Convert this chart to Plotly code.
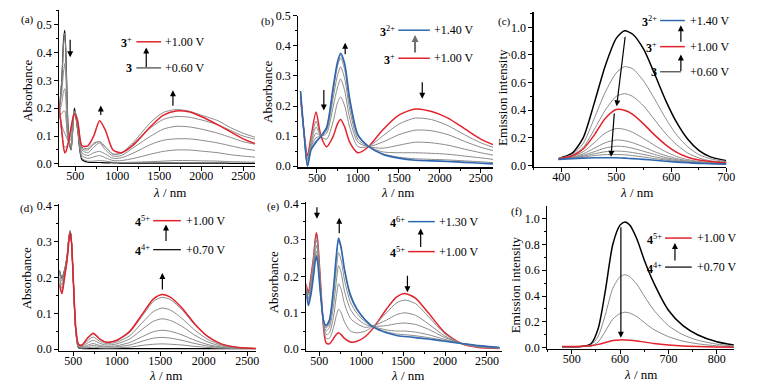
import plotly.graph_objects as go

W, H = 763, 392

# ---------------- data ----------------
# (a) 3 -> 3+ absorbance
a_wl = [300, 340, 360, 375, 390, 420, 450, 490, 530, 580, 650, 720, 790, 860, 950, 1050, 1200, 1400, 1550, 1700, 1850, 2000, 2200, 2350, 2500, 2650]
a_black = [0.16, 0.30, 0.44, 0.48, 0.38, 0.10, 0.05, 0.20, 0.12, 0.015, 0.006, 0.005, 0.005, 0.004, 0.004, 0.003, 0.003, 0.003, 0.003, 0.003, 0.003, 0.003, 0.003, 0.002, 0.002, 0.002]
a_gray = [
    [0.17, 0.30, 0.43, 0.47, 0.37, 0.10, 0.05, 0.19, 0.12, 0.02, 0.01, 0.01, 0.012, 0.01, 0.006, 0.005, 0.006, 0.008, 0.01, 0.012, 0.012, 0.011, 0.01, 0.008, 0.007, 0.006],
    [0.17, 0.26, 0.33, 0.36, 0.30, 0.09, 0.06, 0.19, 0.13, 0.03, 0.02, 0.025, 0.03, 0.022, 0.012, 0.012, 0.02, 0.035, 0.045, 0.05, 0.05, 0.046, 0.04, 0.033, 0.028, 0.024],
    [0.17, 0.22, 0.26, 0.27, 0.22, 0.08, 0.07, 0.19, 0.14, 0.04, 0.03, 0.04, 0.045, 0.035, 0.02, 0.022, 0.04, 0.07, 0.085, 0.09, 0.09, 0.085, 0.075, 0.065, 0.055, 0.048],
    [0.18, 0.18, 0.19, 0.19, 0.16, 0.08, 0.09, 0.19, 0.14, 0.05, 0.04, 0.06, 0.075, 0.05, 0.028, 0.03, 0.06, 0.10, 0.125, 0.135, 0.133, 0.125, 0.11, 0.095, 0.08, 0.07],
    [0.19, 0.14, 0.12, 0.11, 0.10, 0.08, 0.11, 0.19, 0.15, 0.055, 0.05, 0.07, 0.08, 0.06, 0.035, 0.038, 0.075, 0.13, 0.16, 0.17, 0.168, 0.158, 0.14, 0.12, 0.10, 0.088],
    [0.21, 0.11, 0.07, 0.06, 0.06, 0.08, 0.13, 0.19, 0.16, 0.06, 0.055, 0.075, 0.08, 0.06, 0.035, 0.04, 0.08, 0.15, 0.185, 0.195, 0.19, 0.175, 0.155, 0.13, 0.11, 0.095],
]
a_red = [0.23, 0.12, 0.06, 0.04, 0.045, 0.08, 0.13, 0.18, 0.15, 0.065, 0.065, 0.10, 0.155, 0.12, 0.05, 0.04, 0.07, 0.135, 0.175, 0.19, 0.187, 0.17, 0.14, 0.115, 0.09, 0.072]

# (b) 3+ -> 3(2+) absorbance
b_wl = [300, 340, 385, 430, 490, 550, 620, 700, 750, 790, 840, 900, 1000, 1130, 1300, 1500, 1700, 1900, 2100, 2300, 2500, 2650]
b_red = [0.23, 0.12, 0.035, 0.10, 0.18, 0.10, 0.065, 0.10, 0.14, 0.155, 0.13, 0.08, 0.045, 0.065, 0.12, 0.17, 0.19, 0.182, 0.16, 0.125, 0.09, 0.072]
b_gray = [
    [0.235, 0.12, 0.025, 0.09, 0.15, 0.10, 0.09, 0.15, 0.21, 0.23, 0.20, 0.13, 0.065, 0.066, 0.10, 0.14, 0.16, 0.155, 0.135, 0.105, 0.078, 0.063],
    [0.24, 0.12, 0.018, 0.08, 0.13, 0.10, 0.11, 0.20, 0.26, 0.29, 0.25, 0.16, 0.08, 0.066, 0.08, 0.105, 0.12, 0.118, 0.105, 0.083, 0.063, 0.052],
    [0.245, 0.12, 0.01, 0.07, 0.11, 0.10, 0.12, 0.23, 0.30, 0.33, 0.29, 0.19, 0.09, 0.066, 0.06, 0.07, 0.08, 0.078, 0.07, 0.057, 0.045, 0.037],
    [0.248, 0.12, 0.005, 0.065, 0.095, 0.10, 0.125, 0.25, 0.33, 0.36, 0.32, 0.21, 0.10, 0.066, 0.048, 0.045, 0.045, 0.043, 0.04, 0.034, 0.028, 0.023],
    [0.25, 0.12, 0.002, 0.06, 0.085, 0.10, 0.13, 0.26, 0.34, 0.37, 0.335, 0.22, 0.105, 0.066, 0.042, 0.03, 0.025, 0.023, 0.021, 0.018, 0.015, 0.012],
]
b_blue = [0.25, 0.12, 0.0, 0.055, 0.08, 0.10, 0.13, 0.265, 0.345, 0.375, 0.34, 0.225, 0.105, 0.066, 0.04, 0.027, 0.02, 0.018, 0.016, 0.013, 0.01, 0.008]

# (c) emission of 3 series
c_wl = [395, 420, 440, 460, 480, 500, 515, 530, 550, 570, 590, 610, 630, 650, 670, 700]
c_black = [0.05, 0.09, 0.20, 0.45, 0.72, 0.92, 0.975, 0.95, 0.84, 0.66, 0.47, 0.31, 0.19, 0.11, 0.065, 0.035]
c_gray_hi = [
    [0.05, 0.08, 0.16, 0.34, 0.53, 0.67, 0.715, 0.70, 0.61, 0.48, 0.34, 0.22, 0.135, 0.08, 0.05, 0.03],
    [0.05, 0.075, 0.13, 0.26, 0.40, 0.50, 0.52, 0.50, 0.43, 0.33, 0.23, 0.15, 0.09, 0.055, 0.035, 0.025],
]
c_red = [0.05, 0.07, 0.12, 0.22, 0.34, 0.405, 0.40, 0.37, 0.30, 0.22, 0.15, 0.095, 0.06, 0.04, 0.03, 0.02]
c_gray_lo = [
    [0.05, 0.065, 0.10, 0.165, 0.235, 0.268, 0.262, 0.24, 0.195, 0.145, 0.10, 0.065, 0.043, 0.03, 0.022, 0.017],
    [0.05, 0.06, 0.085, 0.125, 0.165, 0.185, 0.18, 0.165, 0.135, 0.10, 0.072, 0.05, 0.035, 0.025, 0.019, 0.015],
    [0.05, 0.058, 0.075, 0.10, 0.127, 0.14, 0.137, 0.125, 0.103, 0.08, 0.058, 0.042, 0.03, 0.022, 0.017, 0.013],
    [0.048, 0.055, 0.068, 0.085, 0.10, 0.105, 0.102, 0.094, 0.08, 0.063, 0.048, 0.035, 0.026, 0.02, 0.015, 0.012],
    [0.047, 0.053, 0.062, 0.072, 0.079, 0.08, 0.078, 0.072, 0.062, 0.05, 0.04, 0.03, 0.023, 0.018, 0.014, 0.011],
]
c_blue = [0.045, 0.05, 0.054, 0.056, 0.057, 0.056, 0.054, 0.05, 0.045, 0.038, 0.031, 0.025, 0.02, 0.016, 0.013, 0.01]

# (d) 4(4+) -> 4(5+) absorbance
d_wl = [340, 370, 400, 430, 450, 465, 480, 500, 530, 560, 600, 660, 730, 800, 880, 1000, 1150, 1300, 1420, 1520, 1620, 1750, 1900, 2050, 2200, 2400, 2620]
d_black = [0.22, 0.20, 0.22, 0.26, 0.31, 0.33, 0.30, 0.20, 0.05, 0.005, 0.002, 0.002, 0.002, 0.002, 0.002, 0.002, 0.002, 0.002, 0.002, 0.002, 0.002, 0.002, 0.002, 0.002, 0.002, 0.002, 0.002]
d_gray = [
    [0.22, 0.20, 0.22, 0.26, 0.31, 0.33, 0.30, 0.20, 0.05, 0.006, 0.003, 0.004, 0.006, 0.004, 0.003, 0.004, 0.006, 0.011, 0.014, 0.015, 0.014, 0.012, 0.008, 0.005, 0.003, 0.002, 0.002],
    [0.215, 0.195, 0.215, 0.26, 0.31, 0.33, 0.30, 0.20, 0.05, 0.007, 0.004, 0.007, 0.011, 0.008, 0.006, 0.007, 0.012, 0.023, 0.031, 0.033, 0.031, 0.025, 0.016, 0.009, 0.005, 0.003, 0.002],
    [0.21, 0.19, 0.215, 0.255, 0.31, 0.33, 0.30, 0.20, 0.052, 0.008, 0.005, 0.011, 0.016, 0.011, 0.008, 0.01, 0.019, 0.036, 0.049, 0.053, 0.05, 0.04, 0.025, 0.013, 0.006, 0.003, 0.002],
    [0.20, 0.18, 0.21, 0.255, 0.31, 0.33, 0.30, 0.20, 0.054, 0.01, 0.007, 0.017, 0.025, 0.017, 0.012, 0.015, 0.029, 0.057, 0.078, 0.085, 0.08, 0.064, 0.039, 0.02, 0.009, 0.004, 0.002],
    [0.195, 0.17, 0.205, 0.25, 0.31, 0.33, 0.30, 0.20, 0.056, 0.012, 0.009, 0.023, 0.034, 0.023, 0.016, 0.02, 0.038, 0.076, 0.105, 0.115, 0.109, 0.086, 0.053, 0.027, 0.012, 0.004, 0.002],
    [0.185, 0.16, 0.20, 0.25, 0.305, 0.33, 0.30, 0.20, 0.058, 0.014, 0.011, 0.028, 0.043, 0.029, 0.019, 0.024, 0.048, 0.095, 0.133, 0.145, 0.138, 0.11, 0.067, 0.034, 0.015, 0.005, 0.002],
]
d_red = [0.18, 0.155, 0.20, 0.25, 0.30, 0.325, 0.30, 0.20, 0.06, 0.015, 0.012, 0.03, 0.045, 0.03, 0.02, 0.025, 0.05, 0.10, 0.14, 0.153, 0.145, 0.115, 0.07, 0.035, 0.015, 0.005, 0.002]

# (e) 4(5+) -> 4(6+) absorbance
e_wl = [340, 370, 400, 430, 450, 465, 480, 510, 550, 580, 620, 670, 700, 730, 760, 800, 870, 950, 1050, 1150, 1300, 1420, 1520, 1650, 1800, 2000, 2200, 2400, 2650]
e_red = [0.18, 0.155, 0.20, 0.25, 0.30, 0.32, 0.30, 0.20, 0.06, 0.018, 0.015, 0.03, 0.04, 0.045, 0.04, 0.03, 0.02, 0.022, 0.035, 0.06, 0.11, 0.143, 0.153, 0.14, 0.10, 0.045, 0.015, 0.005, 0.002]
e_gray = [
    [0.175, 0.15, 0.195, 0.245, 0.295, 0.31, 0.29, 0.19, 0.065, 0.03, 0.03, 0.06, 0.09, 0.11, 0.10, 0.075, 0.05, 0.045, 0.05, 0.065, 0.10, 0.127, 0.135, 0.125, 0.09, 0.042, 0.015, 0.006, 0.003],
    [0.17, 0.14, 0.185, 0.235, 0.285, 0.30, 0.285, 0.185, 0.07, 0.04, 0.045, 0.09, 0.14, 0.18, 0.165, 0.125, 0.085, 0.07, 0.06, 0.065, 0.08, 0.095, 0.10, 0.093, 0.07, 0.036, 0.015, 0.007, 0.003],
    [0.165, 0.135, 0.175, 0.225, 0.27, 0.285, 0.27, 0.175, 0.075, 0.05, 0.06, 0.12, 0.18, 0.23, 0.21, 0.16, 0.11, 0.085, 0.068, 0.063, 0.065, 0.07, 0.072, 0.068, 0.055, 0.032, 0.016, 0.008, 0.004],
    [0.163, 0.13, 0.165, 0.215, 0.255, 0.27, 0.255, 0.17, 0.078, 0.058, 0.07, 0.145, 0.215, 0.265, 0.245, 0.19, 0.13, 0.098, 0.075, 0.062, 0.053, 0.05, 0.05, 0.047, 0.04, 0.027, 0.016, 0.009, 0.004],
    [0.16, 0.125, 0.155, 0.205, 0.245, 0.26, 0.245, 0.165, 0.08, 0.063, 0.078, 0.165, 0.245, 0.30, 0.275, 0.215, 0.145, 0.107, 0.079, 0.061, 0.048, 0.042, 0.04, 0.037, 0.032, 0.024, 0.016, 0.01, 0.005],
]
e_blue = [0.16, 0.12, 0.15, 0.20, 0.24, 0.255, 0.24, 0.16, 0.08, 0.065, 0.08, 0.17, 0.25, 0.305, 0.28, 0.22, 0.15, 0.11, 0.08, 0.06, 0.045, 0.038, 0.035, 0.032, 0.028, 0.022, 0.016, 0.01, 0.005]

# (f) emission of 4 series
f_wl = [480, 520, 540, 555, 570, 585, 600, 610, 620, 635, 650, 670, 700, 730, 760, 800, 835]
f_black = [0.005, 0.008, 0.03, 0.15, 0.45, 0.80, 0.95, 0.975, 0.95, 0.84, 0.68, 0.50, 0.29, 0.17, 0.10, 0.045, 0.02]
f_gray = [
    [0.005, 0.008, 0.02, 0.09, 0.26, 0.46, 0.55, 0.565, 0.55, 0.49, 0.40, 0.29, 0.17, 0.10, 0.058, 0.027, 0.012],
    [0.005, 0.007, 0.012, 0.045, 0.13, 0.22, 0.265, 0.275, 0.268, 0.24, 0.195, 0.14, 0.085, 0.05, 0.03, 0.014, 0.007],
]
f_red = [0.008, 0.01, 0.015, 0.025, 0.04, 0.055, 0.06, 0.06, 0.058, 0.052, 0.043, 0.032, 0.02, 0.012, 0.008, 0.004, 0.002]

# ---------------- styling ----------------
RED = "#e3222c"
BLUE = "#2f67b1"
GRAY = "#8a8a8a"
BLACK = "#000000"
FONT = "Liberation Serif"

fig = go.Figure()

def add(i, x, y, color, width):
    ax = "" if i == 1 else str(i)
    fig.add_trace(go.Scatter(x=x, y=y, mode="lines", xaxis="x" + ax, yaxis="y" + ax,
                             line=dict(color=color, width=width, shape="spline", smoothing=0.7),
                             showlegend=False, hoverinfo="skip"))

add(1, a_wl, a_black, BLACK, 1.2)
for g in a_gray:
    add(1, a_wl, g, GRAY, 1.0)
add(1, a_wl, a_red, RED, 1.5)

add(2, b_wl, b_red, RED, 1.5)
for g in b_gray:
    add(2, b_wl, g, GRAY, 1.0)
add(2, b_wl, b_blue, BLUE, 1.6)

add(3, c_wl, c_black, BLACK, 1.5)
for g in c_gray_hi:
    add(3, c_wl, g, GRAY, 1.0)
for g in c_gray_lo:
    add(3, c_wl, g, GRAY, 1.0)
add(3, c_wl, c_red, RED, 1.5)
add(3, c_wl, c_blue, BLUE, 1.6)

add(4, d_wl, d_black, BLACK, 1.2)
for g in d_gray:
    add(4, d_wl, g, GRAY, 1.0)
add(4, d_wl, d_red, RED, 1.5)

add(5, e_wl, e_red, RED, 1.5)
for g in e_gray:
    add(5, e_wl, g, GRAY, 1.0)
add(5, e_wl, e_blue, BLUE, 1.6)

add(6, f_wl, f_black, BLACK, 1.5)
for g in f_gray:
    add(6, f_wl, g, GRAY, 1.0)
add(6, f_wl, f_red, RED, 1.5)

# panel geometry in pixels: (left, right, top, bottom), x range, y range, x dtick, x minor, y dtick, y minor
panels = {
    1: ((60, 258, 3, 164), [310, 2640], [-0.006, 0.553], 500, 250, 0.1, 0.05),
    2: ((302, 499, 9, 166), [275, 2650], [-0.004, 0.5], 500, 250, 0.1, 0.05),
    3: ((540, 735, 5, 165), [350, 700], [-0.007, 1.112], 100, 50, 0.2, 0.1),
    4: ((60, 259, 204, 355.5), [340, 2600], [-0.004, 0.4046], 500, 250, 0.1, 0.05),
    5: ((310, 508, 202, 355.5), [345, 2680], [-0.004, 0.4035], 500, 250, 0.1, 0.05),
    6: ((554, 743, 206, 353.5), [450, 836], [-0.009, 1.097], 100, 50, 0.2, 0.1),
}

layout = dict(width=W, height=H, margin=dict(l=0, r=0, t=0, b=0),
              paper_bgcolor="white", plot_bgcolor="white",
              font=dict(family=FONT, size=12, color="black"))

for i, (box, xr, yr, xdt, xmn, ydt, ymn) in panels.items():
    l, r, t, b = box
    sfx = "" if i == 1 else str(i)
    common = dict(showline=True, linecolor="black", linewidth=1.2, ticks="outside", ticklen=4,
                  tickwidth=1, tickcolor="black", showgrid=False, zeroline=False,
                  tickfont=dict(family=FONT, size=12, color="black"), fixedrange=True)
    layout["xaxis" + sfx] = dict(common, domain=[l / W, r / W], range=xr, anchor="y" + sfx,
                                 tickmode="linear", tick0=0, dtick=xdt, ticklabelstandoff=-5,
                                 minor=dict(ticks="outside", ticklen=2, tickcolor="black",
                                            tickmode="linear", tick0=0, dtick=xmn))
    layout["yaxis" + sfx] = dict(common, domain=[1 - b / H, 1 - t / H], range=yr, anchor="x" + sfx,
                                 tickmode="linear", tick0=0, dtick=ydt, tickformat=".1f",
                                 minor=dict(ticks="outside", ticklen=2, tickcolor="black",
                                            tickmode="linear", tick0=0, dtick=ymn))

fig.update_layout(**layout)

def P(x, y):
    return x / W, 1 - y / H

annotations = []
shapes = []

def text(x, y, s, size=12, anchor="center", angle=0):
    px, py = P(x, y)
    annotations.append(dict(x=px, y=py, xref="paper", yref="paper", text=s, showarrow=False,
                            xanchor=anchor, yanchor="middle", textangle=angle,
                            font=dict(family=FONT, size=size, color="black")))

def arrow(x0, y0, x1, y1, color="black", width=1.2, size=1.0):
    # tail (x0,y0) -> head (x1,y1), in pixels
    px, py = P(x1, y1)
    annotations.append(dict(x=px, y=py, xref="paper", yref="paper", ax=x0 - x1, ay=y0 - y1,
                            axref="pixel", ayref="pixel", text="", showarrow=True,
                            arrowhead=2, arrowsize=size, arrowwidth=width, arrowcolor=color))

def seg(x0, y0, x1, y1, color, width=1.5):
    a0, b0 = P(x0, y0)
    a1, b1 = P(x1, y1)
    shapes.append(dict(type="line", xref="paper", yref="paper", x0=a0, y0=b0, x1=a1, y1=b1,
                       line=dict(color=color, width=width)))

# panel labels
for lab, (x, y) in {"(a)": (28, 13), "(b)": (271, 15), "(c)": (511, 15),
                    "(d)": (27, 208), "(e)": (277, 206), "(f)": (523, 212)}.items():
    text(x, y, lab, size=11)

# axis titles
XT = "<i>λ</i> / nm"
for (x, y) in [(172, 192), (402, 192), (644, 192), (167, 381), (412, 381), (648, 380)]:
    text(x, y, XT, size=13)
for (x, y, s) in [(27, 87, "Absorbance"), (270, 88, "Absorbance"), (509, 93, "Emission intensity"),
                  (27, 281, "Absorbance"), (277, 285, "Absorbance"), (522, 287, "Emission intensity")]:
    text(x, y, s, size=13, angle=-90)

# inset legends
# (a)
text(136, 37, "<b>3</b><sup>+</sup>", anchor="right")
seg(138, 36, 163, 36, RED)
text(165, 36, "+1.00 V", anchor="left")
text(136, 63, "<b>3</b>", anchor="right")
seg(138, 63, 163, 63, "#404040", 1.2)
text(165, 63, "+0.60 V", anchor="left")
arrow(148, 63, 148, 42)
# (b)
text(402, 25, "<b>3</b><sup>2+</sup>", anchor="right")
seg(403, 24, 435, 24, BLUE)
text(437, 24, "+1.40 V", anchor="left")
text(402, 54, "<b>3</b><sup>+</sup>", anchor="right")
seg(403, 53, 435, 53, RED)
text(437, 53, "+1.00 V", anchor="left")
arrow(420, 48, 420, 29, color="#6f6f6f", width=2, size=0.7)
# (c)
text(667, 15, "<b>3</b><sup>2+</sup>", anchor="right")
seg(668, 14, 693, 14, BLUE)
text(696, 14, "+1.40 V", anchor="left")
text(667, 42, "<b>3</b><sup>+</sup>", anchor="right")
seg(668, 41, 693, 41, RED)
text(696, 41, "+1.00 V", anchor="left")
text(667, 67, "<b>3</b>", anchor="right")
seg(668, 67, 689, 67, "#404040", 1.2)
text(696, 67, "+0.60 V", anchor="left")
arrow(689, 67, 689, 49)
arrow(689, 37, 689, 19)
# (d)
text(154, 222, "<b>4</b><sup>5+</sup>", anchor="right")
seg(155, 221, 183, 221, RED)
text(186, 221, "+1.00 V", anchor="left")
text(154, 252, "<b>4</b><sup>4+</sup>", anchor="right")
seg(155, 251, 183, 251, BLACK, 1.2)
text(186, 251, "+0.70 V", anchor="left")
arrow(168, 243, 168, 225)
# (e)
text(412, 223, "<b>4</b><sup>6+</sup>", anchor="right")
seg(413, 222, 440, 222, BLUE)
text(442, 222, "+1.30 V", anchor="left")
text(412, 254, "<b>4</b><sup>5+</sup>", anchor="right")
seg(413, 253, 440, 253, RED)
text(442, 253, "+1.00 V", anchor="left")
arrow(425.7, 249, 425.7, 229)
# (f)
text(672, 240, "<b>4</b><sup>5+</sup>", anchor="right")
seg(673, 239, 700, 239, RED)
text(703, 239, "+1.00 V", anchor="left")
text(672, 270, "<b>4</b><sup>4+</sup>", anchor="right")
seg(673, 269, 700, 269, BLACK, 1.2)
text(703, 269, "+0.70 V", anchor="left")
arrow(683, 263, 683, 244)

# data arrows
arrow(71, 33, 71, 52)
arrow(102, 113, 102, 102)
arrow(175, 103, 175, 86)
arrow(327.7, 85, 327.7, 107)
arrow(349.3, 50, 349.3, 37)
arrow(427.3, 77, 427.3, 95)
arrow(632.7, 31.7, 624, 102.7)
arrow(621.7, 110, 618.3, 155)
arrow(164.3, 293, 164.3, 275)
arrow(320.7, 206, 320.7, 219)
arrow(343.3, 235, 343.3, 218)
arrow(412.3, 277, 412.3, 295)
arrow(628.3, 230, 628.3, 342)

fig.update_layout(annotations=annotations, shapes=shapes)
fig.write_html("out.html", config={"displayModeBar": False, "staticPlot": True},
               post_script="document.body.style.margin='0';document.body.style.overflow='hidden';")
